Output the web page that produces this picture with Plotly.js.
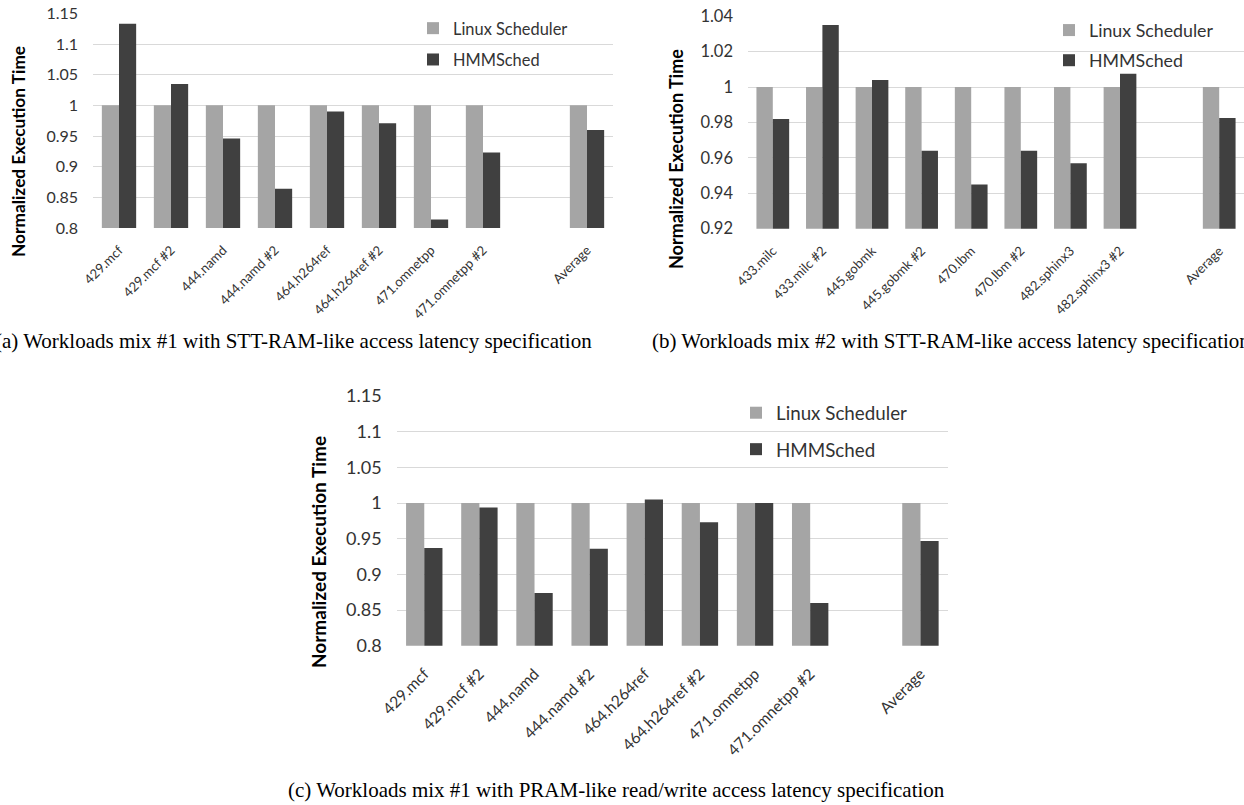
<!DOCTYPE html>
<html><head><meta charset="utf-8">
<script src="https://cdn.plot.ly/plotly-3.0.1.min.js"></script>
<style>html,body{margin:0;padding:0;background:#fff}#chart{width:1244px;height:805px}</style>
</head><body><div id="chart"></div>
<script>
// (a) Workloads mix #1, STT-RAM-like
const catsA = ['429.mcf','429.mcf #2','444.namd','444.namd #2','464.h264ref','464.h264ref #2','471.omnetpp','471.omnetpp #2',' ','Average'];
const linuxA = [1,1,1,1,1,1,1,1,null,1];
const hmmA = [1.133,1.035,0.946,0.864,0.990,0.971,0.814,0.923,null,0.960];
// (b) Workloads mix #2, STT-RAM-like
const catsB = ['433.milc','433.milc #2','445.gobmk','445.gobmk #2','470.lbm','470.lbm #2','482.sphinx3','482.sphinx3 #2',' ','Average'];
const linuxB = [1,1,1,1,1,1,1,1,null,1];
const hmmB = [0.982,1.035,1.004,0.964,0.945,0.964,0.957,1.0075,null,0.9825];
// (c) Workloads mix #1, PRAM-like
const catsC = ['429.mcf','429.mcf #2','444.namd','444.namd #2','464.h264ref','464.h264ref #2','471.omnetpp','471.omnetpp #2',' ','Average'];
const linuxC = [1,1,1,1,1,1,1,1,null,1];
const hmmC = [0.937,0.994,0.874,0.936,1.005,0.973,1.000,0.860,null,0.947];

const seriesNames = ['Linux Scheduler','HMMSched'];
const yTitle = 'Normalized Execution Time';
const captions = [
  '(a) Workloads mix #1 with STT-RAM-like access latency specification',
  '(b) Workloads mix #2 with STT-RAM-like access latency specification',
  '(c) Workloads mix #1 with PRAM-like read/write access latency specification'
];

const GRAY = '#A5A5A5', DARK = '#404040', GRID = '#D9D9D9';
const FONT = 'Lato, "Open Sans", sans-serif';
const TXT = '#333333';

function pair(cats, lin, hmm, xa, ya, lg, tag) {
  return [
    {type:'bar', name:seriesNames[0], x:cats, y:lin, xaxis:xa, yaxis:ya, legend:lg, legendgroup:tag+'1',
     marker:{color:GRAY, line:{width:0}}, hoverinfo:'x+y'},
    {type:'bar', name:seriesNames[1], x:cats, y:hmm, xaxis:xa, yaxis:ya, legend:lg, legendgroup:tag+'2',
     marker:{color:DARK, line:{width:0}}, hoverinfo:'x+y'}
  ];
}
const data = [].concat(
  pair(catsA, linuxA, hmmA, 'x', 'y', 'legend', 'a'),
  pair(catsB, linuxB, hmmB, 'x2', 'y2', 'legend2', 'b'),
  pair(catsC, linuxC, hmmC, 'x3', 'y3', 'legend3', 'c')
);

const W = 1244, H = 805;
const px = v => v / W, py = v => 1 - v / H;

function xax(d, fs, so) {
  return {domain:d, type:'category', showgrid:false, showline:false, zeroline:false, ticks:'',
          tickangle:-45, tickfont:{family:FONT, size:fs, color:TXT}, ticklabelstandoff:so, fixedrange:true};
}
function yax(d, r, dt, fs, anchor) {
  return {domain:d, range:r, dtick:dt, tick0:0, anchor:anchor, showgrid:true, gridcolor:GRID, gridwidth:1,
          showline:false, zeroline:false, ticks:'', tickfont:{family:FONT, size:fs, color:TXT},
          ticklabelstandoff:14, fixedrange:true};
}
function leg(x, y, fs, gap) {
  return {x:x, y:y, xanchor:'left', yanchor:'top', orientation:'v', bgcolor:'rgba(0,0,0,0)',
          font:{family:FONT, size:fs, color:TXT}, itemwidth:30, tracegroupgap:gap, traceorder:'grouped'};
}
function ytitle(x, y, fs) {
  return {xref:'paper', yref:'paper', x:px(x), y:py(y), xanchor:'center', yanchor:'middle', textangle:-90,
          showarrow:false, text:yTitle, font:{family:FONT, size:fs, weight:'bold', color:'#000'}};
}
const CAPFONT = {family:'"Liberation Serif", "Times New Roman", serif', size:21, color:'#000'};

const layout = {
  width:W, height:H, margin:{l:0, r:0, t:0, b:0}, paper_bgcolor:'#fff', plot_bgcolor:'#fff',
  barmode:'group', bargap:0.34, bargroupgap:0, showlegend:true,
  xaxis: Object.assign(xax([px(93), px(613)], 13.2, 11), {anchor:'y'}),
  yaxis: yax([py(228), py(13.3)], [0.8, 1.1501], 0.05, 16, 'x'),
  xaxis2: Object.assign(xax([px(748), 1], 13.2, 11), {anchor:'y2'}),
  yaxis2: yax([py(228.7), py(16)], [0.92, 1.0401], 0.02, 16.5, 'x2'),
  xaxis3: Object.assign(xax([px(396.7), px(948)], 15.7, 15), {anchor:'y3'}),
  yaxis3: yax([py(645.8), py(396)], [0.8, 1.1501], 0.05, 18, 'x3'),
  legend: leg(px(413), py(11), 16.4, 7),
  legend2: leg(px(1049), py(12), 17.8, 4),
  legend3: leg(px(736), py(394), 18.8, 9),
  annotations: [
    ytitle(19, 152, 17.3),
    ytitle(676, 159, 18),
    ytitle(318, 552, 19),
    {xref:'paper', yref:'paper', x:px(594), y:py(341), xanchor:'right', yanchor:'middle', showarrow:false, text:captions[0], font:CAPFONT},
    {xref:'paper', yref:'paper', x:px(650), y:py(341), xanchor:'left', yanchor:'middle', showarrow:false, text:captions[1], font:CAPFONT},
    {xref:'paper', yref:'paper', x:px(616), y:py(790), xanchor:'center', yanchor:'middle', showarrow:false, text:captions[2], font:CAPFONT}
  ]
};

Plotly.newPlot('chart', data, layout, {displayModeBar:false, staticPlot:true});
</script>
</body></html>
